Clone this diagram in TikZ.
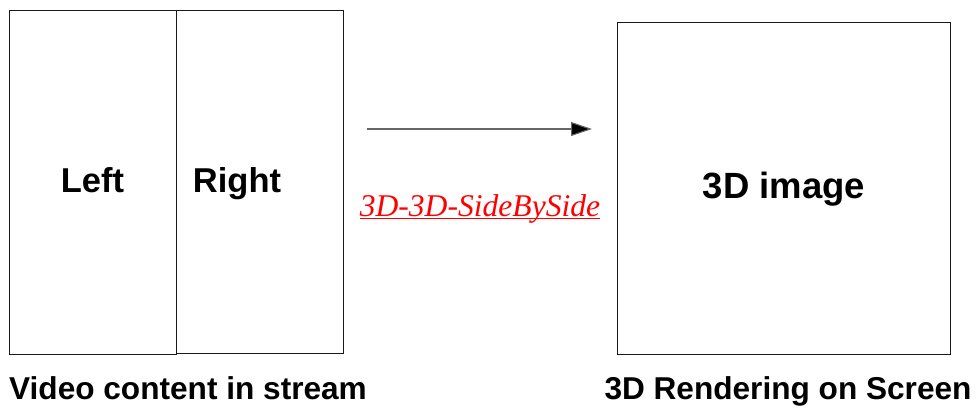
\documentclass[tikz,border=0pt]{standalone}
\usepackage{fontspec}
\setmainfont{Liberation Sans}
\newfontfamily\serifit{Liberation Serif}
\usetikzlibrary{arrows.meta}
\newcommand\myul[1]{\setbox0\hbox{#1}\rlap{\rule[-3pt]{\wd0}{1.4pt}}\box0}
\tikzset{
  panel/.style={draw=black!90, line width=0.9pt, fill=white},
  boxtext/.style={anchor=base, inner sep=0pt, font=\fontsize{34.5}{34.5}\selectfont\bfseries},
  captext/.style={anchor=base, inner sep=0pt, font=\fontsize{31.6}{31.6}\selectfont\bfseries},
  modetext/.style={anchor=base, inner sep=0pt, text=red, font=\fontsize{31.6}{31.6}\selectfont\serifit\itshape},
  flow/.style={draw=black!60, line width=1.1pt, -{Triangle[length=21pt,width=14pt,fill=black]}}
}
\begin{document}
\begin{tikzpicture}[x=1pt,y=-1pt]
\useasboundingbox (0,0) rectangle (980,407);
% boxes
\draw[panel] (9,10) rectangle (176,354);
\draw[panel] (176,10) rectangle (343,353);
\draw[panel] (617,22) rectangle (950,354);
\node[boxtext] (left) at (92.5,192) {Left};
\node[boxtext] (right) at (237,192) {Right};
\node[boxtext, font=\fontsize{36.5}{36.5}\selectfont\bfseries] (img) at (784,198) {3D image};
% arrow
\coordinate (a1) at (367,129);
\coordinate (a2) at (592,129);
\draw[flow] (a1) -- (a2);
\node[modetext] (mode) at (480,216) {\myul{3D-3D-SideBySide}};
% captions
\node[captext] (cap1) at (188,399) {Video content in stream};
\node[captext] (cap2) at (788,399) {3D Rendering on Screen};
\end{tikzpicture}
\end{document}
